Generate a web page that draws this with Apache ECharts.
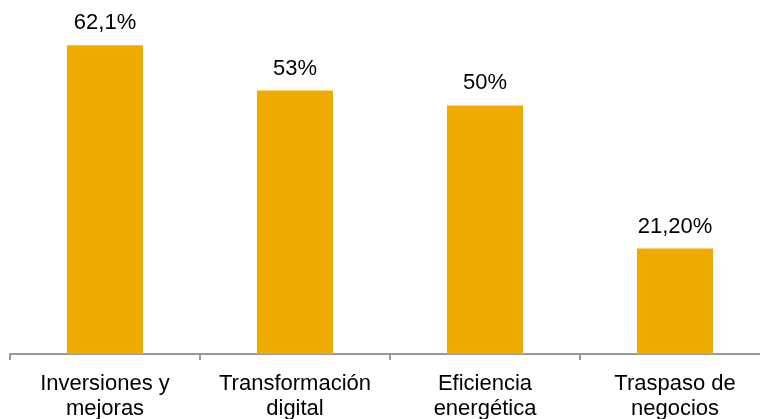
<!DOCTYPE html>
<html>
<head>
<meta charset="utf-8">
<script src="https://cdn.jsdelivr.net/npm/echarts@6/dist/echarts.min.js"></script>
<style>
  html, body { margin: 0; padding: 0; background: #fff; }
  #chart { width: 760px; height: 419px; }
</style>
</head>
<body>
<div id="chart"></div>
<script>
// datos del grafico
var categories = ['Inversiones y\nmejoras', 'Transformación\ndigital', 'Eficiencia\nenergética', 'Traspaso de\nnegocios'];
var values = [62.1, 53, 50, 21.2];
var valueLabels = ['62,1%', '53%', '50%', '21,20%'];

var chart = echarts.init(document.getElementById('chart'));

var option = {
    animation: false,
    grid: {
        left: 10,
        width: 760,
        top: 6,
        bottom: 65,
        outerBoundsMode: 'none',
        containLabel: false
    },
    xAxis: {
        type: 'category',
        data: categories,
        axisLine: { lineStyle: { color: '#999999', width: 2 } },
        axisTick: { show: true, length: 6, lineStyle: { color: '#999999', width: 2 } },
        axisLabel: {
            color: '#000000',
            fontFamily: 'Liberation Sans, Arial, sans-serif',
            fontSize: 22,
            lineHeight: 25,
            margin: 17,
            interval: 0
        }
    },
    yAxis: {
        type: 'value',
        min: 0,
        max: 70,
        show: false,
        splitLine: { show: false }
    },
    series: [
        {
            type: 'bar',
            data: values,
            barWidth: '40%',
            itemStyle: { color: '#F0AB00' },
            label: {
                show: true,
                position: 'top',
                distance: 11,
                color: '#000000',
                fontFamily: 'Liberation Sans, Arial, sans-serif',
                fontSize: 22,
                formatter: function (p) {
                    return valueLabels[p.dataIndex];
                }
            }
        }
    ]
};

chart.setOption(option);
</script>
</body>
</html>
